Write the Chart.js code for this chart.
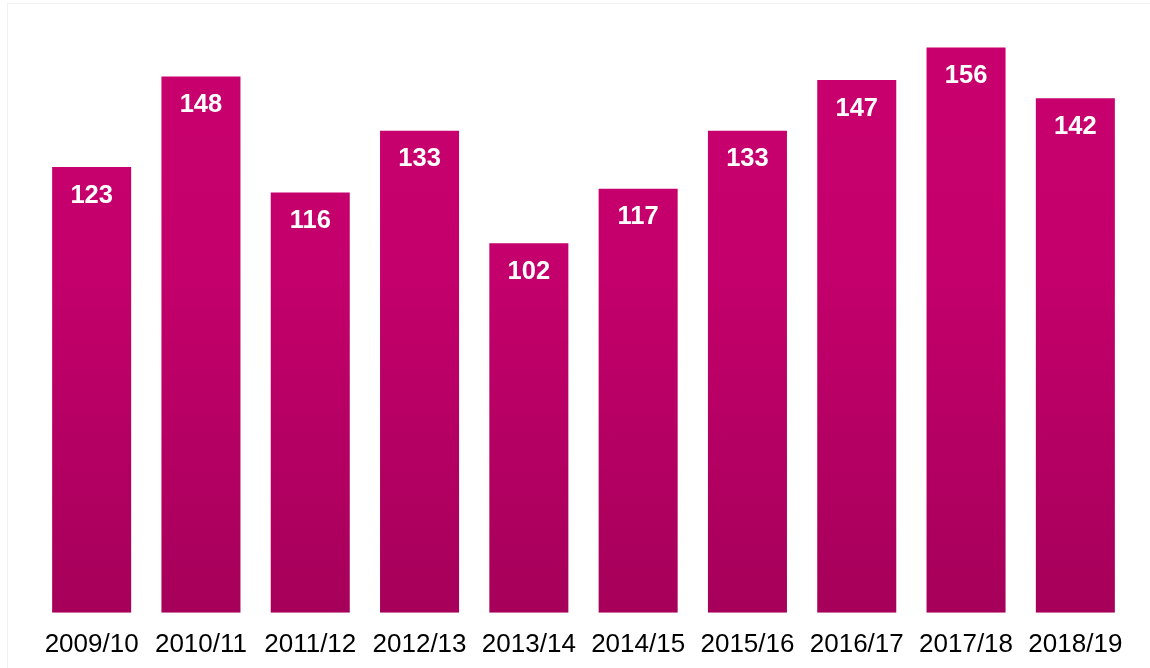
<!DOCTYPE html>
<html>
<head>
<meta charset="utf-8">
<script src="https://cdn.jsdelivr.net/npm/chart.js@4.4.1/dist/chart.umd.min.js"></script>
<style>
  html, body { margin: 0; padding: 0; background: #ffffff; }
  #wrap { position: relative; width: 1150px; height: 668px; overflow: hidden; }
  #frame { position: absolute; left: 7px; top: 3px; width: 1160px; height: 700px; border: 1px solid #f1f1f1; box-sizing: border-box; }
  canvas { position: absolute; left: 0; top: 0; }
</style>
</head>
<body>
<div id="wrap">
  <div id="frame"></div>
  <canvas id="c" width="1150" height="668"></canvas>
</div>
<script>
const categories = ["2009/10", "2010/11", "2011/12", "2012/13", "2013/14", "2014/15", "2015/16", "2016/17", "2017/18", "2018/19"];
const values = [123, 148, 116, 133, 102, 117, 133, 147, 156, 142];

const valueLabels = {
  id: 'valueLabels',
  afterDatasetsDraw(chart) {
    const ctx = chart.ctx;
    const meta = chart.getDatasetMeta(0);
    ctx.save();
    ctx.fillStyle = '#ffffff';
    ctx.font = 'bold 25.5px "Liberation Sans", Arial, sans-serif';
    ctx.textAlign = 'center';
    ctx.textBaseline = 'middle';
    meta.data.forEach((bar, i) => {
      ctx.fillText(String(values[i]), bar.x, bar.y + 28.5);
    });
    ctx.restore();
  }
};

new Chart(document.getElementById('c'), {
  type: 'bar',
  data: {
    labels: categories,
    datasets: [{
      data: values,
      backgroundColor(context) {
        const chart = context.chart;
        const area = chart.chartArea;
        if (!area) return '#c5006d';
        const g = chart.ctx.createLinearGradient(0, area.top, 0, area.bottom);
        g.addColorStop(0, '#c8006e');
        g.addColorStop(0.4, '#c4006c');
        g.addColorStop(1, '#a6005a');
        return g;
      },
      borderWidth: 0,
      barPercentage: 0.723,
      categoryPercentage: 1.0
    }]
  },
  options: {
    responsive: false,
    animation: false,
    events: [],
    layout: { padding: { top: 33, left: 37, right: 20, bottom: 0 } },
    plugins: { legend: { display: false }, tooltip: { enabled: false }, title: { display: false } },
    scales: {
      x: {
        grid: { display: false },
        border: { display: false },
        ticks: {
          color: '#000000',
          font: { family: '"Liberation Sans", Arial, sans-serif', size: 26 },
          padding: 8,
          maxRotation: 0,
          autoSkip: false
        }
      },
      y: {
        display: false,
        min: 0,
        max: 160
      }
    }
  },
  plugins: [valueLabels]
});
</script>
</body>
</html>
